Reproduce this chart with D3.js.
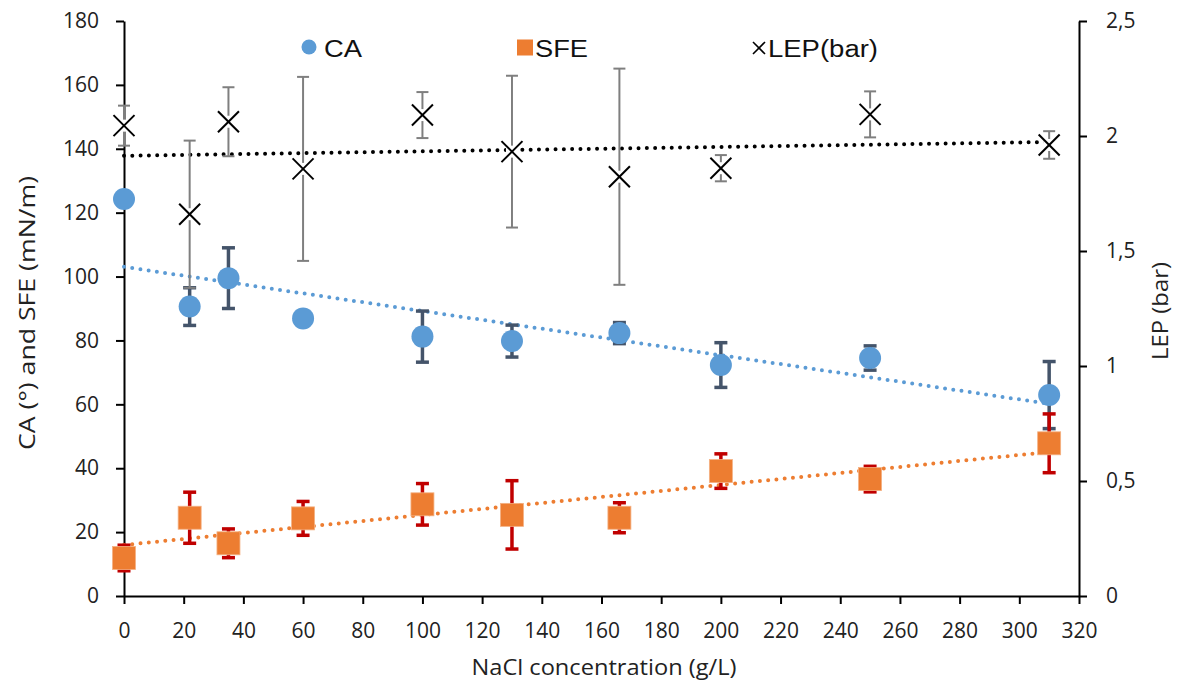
<!DOCTYPE html>
<html>
<head>
<meta charset="utf-8">
<script src="https://cdn.jsdelivr.net/npm/d3@7"></script>
<style>
  html, body { margin: 0; padding: 0; background: #fff; }
  svg { display: block; }
  .tick text { font-family: "Open Sans", sans-serif; font-size: 21px; fill: #222; }
  .axis path, .axis line { stroke: #000; stroke-width: 2px; }
</style>
</head>
<body>
<svg id="chart" width="1179" height="683"></svg>
<script>
// NaCl concentration (g/L)
const concentration = [0, 22, 35, 60, 100, 130, 166, 200, 250, 310];

// Contact angle (°) with standard deviation
const caValues = [124.3, 90.6, 99.5, 86.9, 81.2, 79.8, 82.3, 72.3, 74.5, 62.9];
const caErrors = [1.5, 5.9, 9.5, 1.0, 8.0, 5.0, 3.3, 7.0, 3.8, 10.5];

// Surface free energy (mN/m) with standard deviation
const sfeValues = [11.9, 24.5, 16.5, 24.3, 28.7, 25.4, 24.5, 39.1, 36.6, 47.8];
const sfeErrors = [4.0, 8.0, 4.5, 5.3, 6.5, 10.7, 4.7, 5.4, 4.0, 9.2];

// Liquid entry pressure (bar) with standard deviation
const lepValues = [2.045, 1.66, 2.062, 1.857, 2.091, 1.932, 1.823, 1.86, 2.094, 1.961];
const lepErrors = [0.087, 0.32, 0.15, 0.40, 0.10, 0.33, 0.47, 0.057, 0.10, 0.06];

// Axis ticks
const xTicks = d3.range(0, 321, 20);
const yLeftTicks = d3.range(0, 181, 20);
const yRightTicks = [0, 0.5, 1, 1.5, 2, 2.5];

const svg = d3.select("#chart");
const plotLeft = 124, plotRight = 1079, plotTop = 21, plotBottom = 596;

const x = d3.scaleLinear().domain([0, 320]).range([plotLeft, plotRight]);
const yL = d3.scaleLinear().domain([0, 180]).range([plotBottom, plotTop]);
const yR = d3.scaleLinear().domain([0, 2.5]).range([plotBottom, plotTop]);

const commaFmt = v => String(v).replace(".", ",");

// Axes
const gx = svg.append("g").attr("class", "axis")
  .attr("transform", `translate(0,${plotBottom})`)
  .call(d3.axisBottom(x).tickValues(xTicks).tickSize(8).tickSizeOuter(0).tickPadding(20));
gx.selectAll(".tick text").attr("dy", 0).attr("y", 42);

svg.append("g").attr("class", "axis")
  .attr("transform", `translate(${plotLeft},0)`)
  .call(d3.axisLeft(yL).tickValues(yLeftTicks).tickSize(8).tickSizeOuter(0).tickPadding(17));

svg.append("g").attr("class", "axis")
  .attr("transform", `translate(${plotRight},0)`)
  .call(d3.axisRight(yR).tickValues(yRightTicks).tickFormat(commaFmt).tickSize(8).tickSizeOuter(0).tickPadding(19));

// Axis titles
svg.append("text")
  .attr("x", 604).attr("y", 675)
  .attr("text-anchor", "middle")
  .attr("font-family", "Open Sans, sans-serif").attr("font-size", 22)
  .attr("fill", "#222")
  .attr("textLength", 265).attr("lengthAdjust", "spacingAndGlyphs")
  .text("NaCl concentration (g/L)");

svg.append("text")
  .attr("transform", "translate(35,313) rotate(-90)")
  .attr("text-anchor", "middle")
  .attr("font-family", "Open Sans, sans-serif").attr("font-size", 22)
  .attr("fill", "#222")
  .attr("textLength", 274).attr("lengthAdjust", "spacingAndGlyphs")
  .text("CA (°) and SFE (mN/m)");

svg.append("text")
  .attr("transform", "translate(1168,311) rotate(-90)")
  .attr("text-anchor", "middle")
  .attr("font-family", "Open Sans, sans-serif").attr("font-size", 22)
  .attr("fill", "#222")
  .attr("textLength", 98).attr("lengthAdjust", "spacingAndGlyphs")
  .text("LEP (bar)");

// Linear least-squares trendline from 0 to the last concentration
function trend(xs, ys) {
  const mx = d3.mean(xs), my = d3.mean(ys);
  const sxy = d3.sum(xs, (v, i) => (v - mx) * (ys[i] - my));
  const sxx = d3.sum(xs, v => (v - mx) * (v - mx));
  const slope = sxy / sxx;
  const intercept = my - slope * mx;
  const x0 = 0, x1 = d3.max(xs);
  return [[x0, intercept + slope * x0], [x1, intercept + slope * x1]];
}

const caColor = "#5B9BD5", sfeColor = "#ED7D31";

function drawTrend(pts, yScale, color) {
  svg.append("path")
    .attr("d", d3.line().x(d => x(d[0])).y(d => yScale(d[1]))(pts))
    .attr("fill", "none")
    .attr("stroke", color)
    .attr("stroke-width", 4)
    .attr("stroke-linecap", "round")
    .attr("stroke-dasharray", "0 8.3");
}
drawTrend(trend(concentration, caValues), yL, caColor);
drawTrend(trend(concentration, sfeValues), yL, sfeColor);
drawTrend(trend(concentration, lepValues), yR, "#000");

// Error bars
function errorBars(values, errors, yScale, color, width, cap) {
  const g = svg.append("g")
    .attr("stroke", color).attr("stroke-width", width).attr("fill", "none");
  concentration.forEach((c, i) => {
    const cx = x(c);
    const y1 = yScale(values[i] + errors[i]);
    const y2 = yScale(values[i] - errors[i]);
    g.append("line").attr("x1", cx).attr("x2", cx).attr("y1", y1).attr("y2", y2);
    g.append("line").attr("x1", cx - cap).attr("x2", cx + cap).attr("y1", y1).attr("y2", y1);
    g.append("line").attr("x1", cx - cap).attr("x2", cx + cap).attr("y1", y2).attr("y2", y2);
  });
}

// CA series
errorBars(caValues, caErrors, yL, "#44546A", 3.5, 6.5);
svg.append("g").selectAll("circle")
  .data(concentration)
  .join("circle")
  .attr("cx", d => x(d))
  .attr("cy", (d, i) => yL(caValues[i]))
  .attr("r", 11)
  .attr("fill", caColor);

// SFE series
errorBars(sfeValues, sfeErrors, yL, "#C00000", 3.5, 6.5);
svg.append("g").selectAll("rect")
  .data(concentration)
  .join("rect")
  .attr("x", d => x(d) - 11.5)
  .attr("y", (d, i) => yL(sfeValues[i]) - 11.5)
  .attr("width", 23).attr("height", 23)
  .attr("fill", sfeColor)
  .attr("stroke", "#F4B183").attr("stroke-width", 0.8);

// LEP series
errorBars(lepValues, lepErrors, yR, "#7F7F7F", 2, 6);
const cross = (g, cx, cy, s) => {
  g.append("line").attr("x1", cx - s).attr("y1", cy - s).attr("x2", cx + s).attr("y2", cy + s);
  g.append("line").attr("x1", cx - s).attr("y1", cy + s).attr("x2", cx + s).attr("y2", cy - s);
};
const gLep = svg.append("g").attr("stroke", "#000").attr("stroke-width", 2);
concentration.forEach((c, i) => {
  gLep.append("rect")
    .attr("x", x(c) - 6).attr("y", yR(lepValues[i]) - 6)
    .attr("width", 12).attr("height", 12)
    .attr("fill", "#fff").attr("stroke", "none");
  cross(gLep, x(c), yR(lepValues[i]), 10.5);
});

// Legend
const legend = svg.append("g")
  .attr("font-family", "Liberation Sans, Arial, sans-serif")
  .attr("font-size", 23).attr("fill", "#111");
legend.append("circle").attr("cx", 309).attr("cy", 47).attr("r", 7.5).attr("fill", caColor);
legend.append("text").attr("x", 324).attr("y", 57)
  .attr("textLength", 38).attr("lengthAdjust", "spacingAndGlyphs").text("CA");
legend.append("rect").attr("x", 517).attr("y", 39.5).attr("width", 16).attr("height", 16).attr("fill", sfeColor);
legend.append("text").attr("x", 535).attr("y", 57)
  .attr("textLength", 53).attr("lengthAdjust", "spacingAndGlyphs").text("SFE");
const lx = legend.append("g").attr("stroke", "#000").attr("stroke-width", 1.6);
cross(lx, 759, 48, 6);
legend.append("text").attr("x", 768).attr("y", 57)
  .attr("textLength", 110).attr("lengthAdjust", "spacingAndGlyphs").text("LEP(bar)");
</script>
</body>
</html>
